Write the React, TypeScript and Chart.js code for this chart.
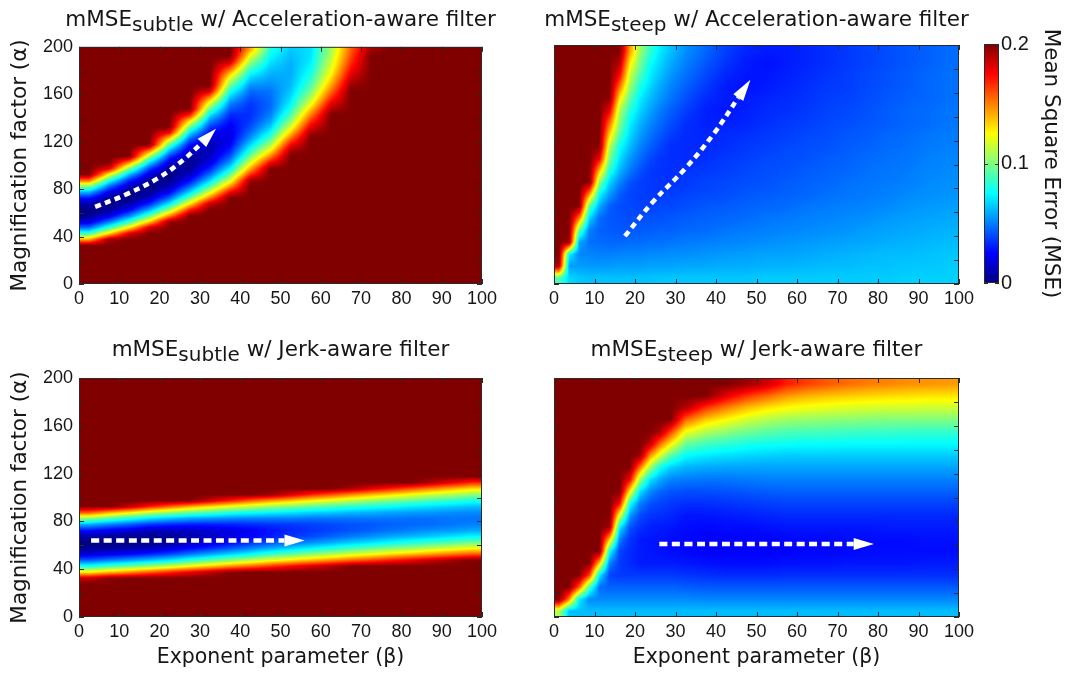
import React, { useEffect, useRef } from "react";
import { Chart, registerables } from "chart.js";

Chart.register(...registerables);

// ---------- axes ----------
const BETA_RANGE = [0, 100];
const ALPHA_RANGE = [0, 200];
const BETA_TICKS = [0, 10, 20, 30, 40, 50, 60, 70, 80, 90, 100];
const ALPHA_LABEL_TICKS = [0, 40, 80, 120, 160, 200];
const ALPHA_MINOR_TICKS = [0, 20, 40, 60, 80, 100, 120, 140, 160, 180, 200];
const MSE_RANGE = [0, 0.2];
const MSE_TICKS = [0, 0.1, 0.2];
const MSE_UNIT = 0.01; // grid values below are MSE in units of 0.01

// beta bin edges used by the two "steep" maps (finer where the boundary is sharp)
const STEEP_BETA_EDGES = [0, 2.5, 5, 7.5, 10, 12.5, 15, 17.5, 20, 22.5, 25, 27.5, 30, 35, 40, 45, 50, 55, 60, 65, 70, 75, 80, 85, 90, 95, 100];

// ---------- heat-map values (MSE x 100), read at cell centres ----------
// mMSE_subtle w/ Acceleration-aware filter: one array per 5-wide beta column, alpha upward in steps of 5
const subtleAccelByBeta = [
  [20,20,20,20,20,20,20,14.1,8.7,4.6, 1.8,0.3,0,0.9,2.9,6.1,10.3,15.6,20,20, 20,20,20,20,20,20,20,20,20,20, 20,20,20,20,20,20,20,20,20,20],
  [20,20,20,20,20,20,20,19.3,13.3,8.5, 4.7,2.0,0.5,0,0.6,2.2,4.7,8.2,12.7,18.2, 20,20,20,20,20,20,20,20,20,20, 20,20,20,20,20,20,20,20,20,20],
  [20,20,20,20,20,20,20,20,18.2,12.9, 8.5,5.0,2.4,0.8,0,0.2,1.3,3.3,6.3,10.1, 14.9,20,20,20,20,20,20,20,20,20, 20,20,20,20,20,20,20,20,20,20],
  [20,20,20,20,20,20,20,20,20,18.4, 13.4,9.3,5.9,3.2,1.4,0.3,0,0.5,1.8,3.9, 6.9,10.6,15.2,20,20,20,20,20,20,20, 20,20,20,20,20,20,20,20,20,20],
  [20,20,20,20,20,20,20,20,20,20, 19.5,14.8,10.7,7.3,4.5,2.4,1.0,0.2,0,0.6, 1.7,3.6,6.1,9.2,13.0,17.5,20,20,20,20, 20,20,20,20,20,20,20,20,20,20],
  [20,20,20,20,20,20,20,20,20,20, 20,20,16.9,13.0,9.6,6.7,4.4,2.5,1.3,0.5, 0.3,0.6,1.4,2.7,4.6,6.9,9.8,13.1,17.0,20, 20,20,20,20,20,20,20,20,20,20],
  [20,20,20,20,20,20,20,20,20,20, 20,20,20,18.8,15.1,11.8,9.0,6.6,4.6,3.1, 1.9,1.3,1.0,1.1,1.6,2.5,3.7,5.2,7.1,9.4, 12.0,14.9,18.2,20,20,20,20,20,20,20],
  [20,20,20,20,20,20,20,20,20,20, 20,20,20,20,20,17.6,14.5,11.7,9.3,7.2, 5.5,4.1,3.1,2.4,2.0,2.0,2.2,2.7,3.3,4.2, 5.2,6.5,8.0,9.7,11.6,13.7,16.1,18.6,20,20],
  [20,20,20,20,20,20,20,20,20,20, 20,20,20,20,20,20,20,19.3,16.5,14.0, 11.8,9.8,8.1,6.7,5.5,4.6,4.0,3.6,3.4,3.4, 3.6,4.0,4.6,5.4,6.4,7.6,9.0,10.6,12.3,14.1],
  [20,20,20,20,20,20,20,20,20,20, 20,20,20,20,20,20,20,20,20,19.8, 17.5,15.0,12.7,10.7,9.0,7.6,6.5,5.6,5.0,4.6, 4.5,4.6,4.8,5.2,5.6,6.0,6.5,7.0,7.5,8.1],
  [20,20,20,20,20,20,20,20,20,20, 20,20,20,20,20,20,20,20,20,20, 20,20,19.2,17.5,15.5,13.5,11.7,10.2,9.0,8.0, 7.3,6.8,6.4,6.1,6.0,5.9,5.9,6.0,6.2,6.4],
  [20,20,20,20,20,20,20,20,20,20, 20,20,20,20,20,20,20,20,20,20, 20,20,20,20,20,19.3,18,16.5,15,13.5, 12,10.8,9.8,9.0,8.4,7.9,7.5,7.2,7.0,6.9],
  [20,20,20,20,20,20,20,20,20,20, 20,20,20,20,20,20,20,20,20,20, 20,20,20,20,20,20,20,20,20,19, 17.8,16.5,15.3,14.2,13.3,12.5,11.9,11.4,11.0,10.7],
  [20,20,20,20,20,20,20,20,20,20, 20,20,20,20,20,20,20,20,20,20, 20,20,20,20,20,20,20,20,20,20, 20,20,20,19.5,18.7,17.9,17.2,16.6,16.1,15.7],
  [20,20,20,20,20,20,20,20,20,20, 20,20,20,20,20,20,20,20,20,20, 20,20,20,20,20,20,20,20,20,20, 20,20,20,20,20,20,20,20,20,19.3],
  [20,20,20,20,20,20,20,20,20,20, 20,20,20,20,20,20,20,20,20,20, 20,20,20,20,20,20,20,20,20,20, 20,20,20,20,20,20,20,20,20,20],
  [20,20,20,20,20,20,20,20,20,20, 20,20,20,20,20,20,20,20,20,20, 20,20,20,20,20,20,20,20,20,20, 20,20,20,20,20,20,20,20,20,20],
  [20,20,20,20,20,20,20,20,20,20, 20,20,20,20,20,20,20,20,20,20, 20,20,20,20,20,20,20,20,20,20, 20,20,20,20,20,20,20,20,20,20],
  [20,20,20,20,20,20,20,20,20,20, 20,20,20,20,20,20,20,20,20,20, 20,20,20,20,20,20,20,20,20,20, 20,20,20,20,20,20,20,20,20,20],
  [20,20,20,20,20,20,20,20,20,20, 20,20,20,20,20,20,20,20,20,20, 20,20,20,20,20,20,20,20,20,20, 20,20,20,20,20,20,20,20,20,20],
];

// mMSE_steep w/ Acceleration-aware filter: one array per 10-wide alpha row, across STEEP_BETA_EDGES bins
const steepAccelByAlpha = [
  [9,6.8,6.4,6.3,6.3,6.3,6.3,6.3,6.3,6.3,6.4,6.4, 6.4,6.4,6.4,6.4,6.5,6.5,6.5,6.5,6.5,6.5,6.5,6.6,6.6,6.6],
  [19,5.6,5.6,5.5,5.5,5.5,5.6,5.6,5.6,5.7,5.7,5.7, 5.8,5.8,5.9,5.9,6.0,6.0,6.1,6.2,6.2,6.3,6.3,6.4,6.4,6.5],
  [20,7.4,5.1,5.1,5.0,5.0,5.1,5.1,5.1,5.2,5.2,5.3, 5.3,5.4,5.5,5.6,5.7,5.7,5.8,5.9,6.0,6.1,6.2,6.2,6.3,6.4],
  [20,19.5,5.8,4.7,4.6,4.5,4.5,4.6,4.6,4.7,4.7,4.8, 4.9,5.0,5.1,5.2,5.3,5.4,5.5,5.6,5.7,5.8,5.9,6.0,6.1,6.2],
  [20,20,9.5,5.0,4.4,4.3,4.2,4.2,4.3,4.3,4.4,4.4, 4.5,4.6,4.8,4.9,5.0,5.1,5.2,5.3,5.4,5.6,5.7,5.8,5.9,6.0],
  [20,20,15,6.7,4.6,4.2,4.1,4.0,4.0,4.1,4.1,4.2, 4.3,4.4,4.5,4.6,4.8,4.9,5.0,5.1,5.2,5.3,5.5,5.6,5.7,5.8],
  [20,20,20,9.3,5.8,4.3,4.0,3.9,3.8,3.8,3.9,3.9, 4.0,4.2,4.3,4.4,4.5,4.6,4.8,4.9,5.0,5.1,5.2,5.4,5.5,5.6],
  [20,20,20,14.5,7.5,5.5,4.3,3.8,3.7,3.6,3.6,3.7, 3.8,3.9,4.0,4.2,4.3,4.4,4.5,4.7,4.8,4.9,5.0,5.2,5.3,5.4],
  [20,20,20,20,10.2,6.6,5.1,4.1,3.7,3.6,3.5,3.5, 3.6,3.8,3.9,4.0,4.1,4.3,4.4,4.5,4.7,4.8,4.9,5.0,5.2,5.3],
  [20,20,20,20,13.8,8.2,6.1,4.9,4.1,3.6,3.5,3.4, 3.5,3.6,3.7,3.9,4.0,4.1,4.3,4.4,4.5,4.7,4.8,4.9,5.1,5.2],
  [20,20,20,20,17.7,9.8,6.9,5.5,4.6,3.9,3.5,3.4, 3.3,3.4,3.6,3.7,3.9,4.0,4.1,4.3,4.4,4.6,4.7,4.8,5.0,5.1],
  [20,20,20,20,19.8,11.1,7.7,6.2,5.1,4.4,3.8,3.4, 3.3,3.3,3.4,3.6,3.7,3.9,4.0,4.1,4.3,4.4,4.6,4.7,4.9,5.0],
  [20,20,20,20,20,13.3,9.0,6.8,5.6,4.8,4.2,3.7, 3.3,3.2,3.3,3.4,3.6,3.7,3.9,4.0,4.2,4.3,4.5,4.6,4.8,4.9],
  [20,20,20,20,20,15.4,10.1,7.3,6.1,5.2,4.6,4.05, 3.4,3.1,3.1,3.2,3.4,3.6,3.7,3.9,4.0,4.2,4.3,4.5,4.6,4.8],
  [20,20,20,20,20,17.8,10.9,8.2,6.7,5.7,4.9,4.4, 3.7,3.1,2.9,3.1,3.3,3.4,3.6,3.8,3.9,4.1,4.3,4.5,4.6,4.8],
  [20,20,20,20,20,19.7,12.8,9.3,7.2,6.2,5.4,4.8, 4.05,3.3,3.0,3.0,3.2,3.3,3.5,3.7,3.8,4.0,4.2,4.4,4.5,4.7],
  [20,20,20,20,20,20,15.2,10.5,8.0,6.7,5.8,5.1, 4.4,3.6,3.0,2.8,3.0,3.2,3.4,3.6,3.7,3.9,4.1,4.3,4.5,4.7],
  [20,20,20,20,20,20,17.5,11.6,9.0,7.2,6.3,5.5, 4.7,3.9,3.2,2.9,2.9,3.1,3.3,3.5,3.7,3.9,4.1,4.3,4.5,4.7],
  [20,20,20,20,20,20,18.9,12.9,9.8,7.7,6.7,5.9, 5.0,4.2,3.5,3.0,2.8,3.0,3.2,3.4,3.6,3.8,4.0,4.2,4.4,4.6],
  [20,20,20,20,20,20,20,14.5,10.6,8.5,7.1,6.3, 5.3,4.5,3.7,3.2,3.0,3.0,3.2,3.4,3.6,3.8,4.0,4.2,4.4,4.6],
];

// mMSE_subtle w/ Jerk-aware filter: one array per 5-wide beta column, alpha upward in steps of 5
const subtleJerkByBeta = [
  [20,20,20,20,20,20,18.6,12.7,8.0,4.3, 1.8,0.4,0,0.8,2.8,6.0,10.4,15.9,20,20, 20,20,20,20,20,20,20,20,20,20, 20,20,20,20,20,20,20,20,20,20],
  [20,20,20,20,20,20,19.7,13.7,8.8,5.0, 2.2,0.6,0,0.6,2.3,5.1,9.1,14.3,20,20, 20,20,20,20,20,20,20,20,20,20, 20,20,20,20,20,20,20,20,20,20],
  [20,20,20,20,20,20,20,14.6,9.6,5.6, 2.6,0.8,0,0.3,1.8,4.4,8.1,12.9,18.9,20, 20,20,20,20,20,20,20,20,20,20, 20,20,20,20,20,20,20,20,20,20],
  [20,20,20,20,20,20,20,15.7,10.5,6.3, 3.2,1.1,0.1,0.2,1.3,3.6,7.0,11.5,17.1,20, 20,20,20,20,20,20,20,20,20,20, 20,20,20,20,20,20,20,20,20,20],
  [20,20,20,20,20,20,20,16.7,11.4,7.1, 3.9,1.7,0.5,0.4,1.3,3.3,6.3,10.5,15.7,20, 20,20,20,20,20,20,20,20,20,20, 20,20,20,20,20,20,20,20,20,20],
  [20,20,20,20,20,20,20,17.8,12.5,8.2, 4.9,2.5,1.2,0.8,1.5,3.1,5.8,9.6,14.3,20, 20,20,20,20,20,20,20,20,20,20, 20,20,20,20,20,20,20,20,20,20],
  [20,20,20,20,20,20,20,18.8,13.5,9.2, 5.8,3.3,1.8,1.3,1.7,3.1,5.5,8.9,13.2,18.5, 20,20,20,20,20,20,20,20,20,20, 20,20,20,20,20,20,20,20,20,20],
  [20,20,20,20,20,20,20,19.9,14.6,10.2, 6.7,4.2,2.5,1.8,2.0,3.2,5.2,8.2,12.2,17.1, 20,20,20,20,20,20,20,20,20,20, 20,20,20,20,20,20,20,20,20,20],
  [20,20,20,20,20,20,20,20,15.5,11.1, 7.6,5.0,3.3,2.4,2.4,3.3,5.1,7.8,11.4,15.8, 20,20,20,20,20,20,20,20,20,20, 20,20,20,20,20,20,20,20,20,20],
  [20,20,20,20,20,20,20,20,16.5,12.1, 8.6,5.9,4.0,3.0,2.8,3.5,5.0,7.4,10.6,14.7, 19.6,20,20,20,20,20,20,20,20,20, 20,20,20,20,20,20,20,20,20,20],
  [20,20,20,20,20,20,20,20,17.4,13.0, 9.4,6.6,4.6,3.5,3.2,3.6,5.0,7.1,10.0,13.8, 18.3,20,20,20,20,20,20,20,20,20, 20,20,20,20,20,20,20,20,20,20],
  [20,20,20,20,20,20,20,20,18.3,13.8, 10.2,7.3,5.2,3.9,3.5,3.8,4.8,6.7,9.4,12.8, 17.0,20,20,20,20,20,20,20,20,20, 20,20,20,20,20,20,20,20,20,20],
  [20,20,20,20,20,20,20,20,19.1,14.6, 10.9,8.0,5.8,4.4,3.8,3.9,4.8,6.5,8.9,12.1, 16.0,20,20,20,20,20,20,20,20,20, 20,20,20,20,20,20,20,20,20,20],
  [20,20,20,20,20,20,20,20,20,15.5, 11.7,8.7,6.4,4.9,4.1,4.1,4.8,6.2,8.4,11.3, 14.9,19.3,20,20,20,20,20,20,20,20, 20,20,20,20,20,20,20,20,20,20],
  [20,20,20,20,20,20,20,20,20,16.2, 12.4,9.3,6.9,5.3,4.4,4.2,4.8,6.0,8.0,10.6, 14.0,18.1,20,20,20,20,20,20,20,20, 20,20,20,20,20,20,20,20,20,20],
  [20,20,20,20,20,20,20,20,20,17.0, 13.2,10.0,7.5,5.8,4.7,4.4,4.8,5.8,7.6,10.0, 13.2,17.0,20,20,20,20,20,20,20,20, 20,20,20,20,20,20,20,20,20,20],
  [20,20,20,20,20,20,20,20,20,17.8, 13.8,10.5,8.0,6.1,5.0,4.5,4.7,5.6,7.2,9.5, 12.4,16.0,20,20,20,20,20,20,20,20, 20,20,20,20,20,20,20,20,20,20],
  [20,20,20,20,20,20,20,20,20,18.6, 14.5,11.2,8.5,6.5,5.3,4.6,4.7,5.5,6.9,8.9, 11.6,15.0,19.0,20,20,20,20,20,20,20, 20,20,20,20,20,20,20,20,20,20],
  [20,20,20,20,20,20,20,20,20,19.3, 15.2,11.8,9.0,6.9,5.5,4.8,4.8,5.3,6.6,8.5, 11.0,14.1,17.9,20,20,20,20,20,20,20, 20,20,20,20,20,20,20,20,20,20],
  [20,20,20,20,20,20,20,20,20,20, 15.9,12.4,9.5,7.4,5.8,5.0,4.75,5.2,6.3,8.0, 10.3,13.2,16.8,20,20,20,20,20,20,20, 20,20,20,20,20,20,20,20,20,20],
];

// mMSE_steep w/ Jerk-aware filter: one array per STEEP_BETA_EDGES column, alpha upward in steps of 10
const steepJerkByBeta = [
  [11,20,20,20,20,20,20,20,20,20, 20,20,20,20,20,20,20,20,20,20],
  [6.3,15,20,20,20,20,20,20,20,20, 20,20,20,20,20,20,20,20,20,20],
  [6.2,7.3,15.7,20,20,20,20,20,20,20, 20,20,20,20,20,20,20,20,20,20],
  [6.2,5.2,8.9,16.3,20,20,20,20,20,20, 20,20,20,20,20,20,20,20,20,20],
  [6.2,5.2,4.6,7.2,13.5,20,20,20,20,20, 20,20,20,20,20,20,20,20,20,20],
  [6.2,5.2,4.4,3.8,5.0,7.7,13.6,19.4,20,20, 20,20,20,20,20,20,20,20,20,20],
  [6.2,5.2,4.4,3.6,3.6,3.8,4.9,7.1,12.0,17.4, 20,20,20,20,20,20,20,20,20,20],
  [6.2,5.2,4.4,3.6,3.3,3.3,3.5,4.1,5.5,7.9, 12.8,17.6,20,20,20,20,20,20,20,20],
  [6.2,5.2,4.4,3.6,3.0,3.0,3.0,3.4,4.0,5.0, 6.9,10.6,15.1,19.6,20,20,20,20,20,20],
  [6.2,5.2,4.4,3.6,3.0,2.9,2.9,3.1,3.5,4.1, 5.2,7.0,10.5,14.6,18.8,20,20,20,20,20],
  [6.2,5.2,4.4,3.6,3.0,2.8,2.8,3.0,3.4,3.8, 4.5,5.8,7.7,11.6,15.4,19.2,20,20,20,20],
  [6.2,5.2,4.4,3.6,3.0,2.7,2.7,2.9,3.25,3.6, 4.15,5.1,6.6,9.25,12.9,16.4,20,20,20,20],
  [6.2,5.2,4.3,3.5,2.9,2.6,2.6,2.7,2.9,3.4, 4.0,4.9,6.0,7.5,9.6,12.3,15.5,19,20,20],
  [6.2,5.1,4.2,3.4,2.8,2.5,2.5,2.6,2.9,3.4, 4.0,4.8,5.8,7.1,8.8,11,13.5,16.5,20,20],
  [6.2,5.1,4.2,3.3,2.7,2.5,2.5,2.7,3.0,3.5, 4.1,4.8,5.7,6.9,8.4,10.3,12.5,15,18,20],
  [6.2,5.1,4.2,3.3,2.7,2.5,2.5,2.7,3.1,3.6, 4.2,4.9,5.7,6.7,8.0,9.7,11.6,13.8,16.5,19.5],
  [6.2,5.1,4.2,3.3,2.7,2.5,2.5,2.8,3.2,3.7, 4.3,5.0,5.7,6.6,7.8,9.3,11.0,13.0,15.5,18.5],
  [6.2,5.1,4.2,3.4,2.8,2.5,2.6,2.9,3.3,3.8, 4.4,5.0,5.7,6.5,7.7,9.0,10.6,12.5,14.5,17.0],
  [6.2,5.1,4.2,3.4,2.8,2.6,2.6,2.9,3.3,3.8, 4.4,5.0,5.7,6.5,7.6,8.9,10.4,12.2,14.0,16.3],
  [6.2,5.1,4.2,3.4,2.8,2.6,2.6,2.9,3.3,3.8, 4.4,5.0,5.7,6.5,7.6,8.8,10.3,12.0,13.7,15.8],
  [6.2,5.1,4.2,3.4,2.9,2.6,2.7,2.9,3.3,3.8, 4.4,5.0,5.7,6.5,7.5,8.7,10.2,11.8,13.5,15.4],
  [6.2,5.1,4.2,3.4,2.9,2.7,2.7,2.9,3.3,3.8, 4.4,5.0,5.7,6.5,7.5,8.6,10.1,11.7,13.3,15.1],
  [6.2,5.1,4.2,3.4,2.9,2.7,2.7,3.0,3.3,3.8, 4.4,5.0,5.7,6.5,7.5,8.6,10.0,11.6,13.2,14.9],
  [6.2,5.1,4.2,3.4,2.9,2.7,2.7,3.0,3.3,3.8, 4.4,5.0,5.7,6.5,7.5,8.5,10.0,11.6,13.1,14.7],
  [6.2,5.1,4.2,3.4,3.0,2.7,2.8,3.0,3.3,3.8, 4.4,5.0,5.7,6.5,7.5,8.5,10.0,11.5,13.0,14.6],
  [6.2,5.1,4.2,3.4,3.0,2.7,2.8,3.0,3.3,3.8, 4.4,5.0,5.7,6.5,7.5,8.5,10.0,11.5,13.0,14.5],
];

// ---------- arrows (beta, alpha) ----------
const arrowSubtleAccel = [{ x: 4, y: 65 }, { x: 12, y: 76 }, { x: 20, y: 90 }, { x: 26, y: 105 }, { x: 30.5, y: 119 }];
const tipSubtleAccel = { x: 34, y: 131 };
const arrowSteepAccel = [{ x: 17.5, y: 40 }, { x: 24.5, y: 69 }, { x: 32.5, y: 97 }, { x: 39.5, y: 126 }, { x: 45.5, y: 156 }];
const tipSteepAccel = { x: 48.5, y: 171 };
const arrowSubtleJerk = [{ x: 3, y: 64 }, { x: 51, y: 64 }];
const tipSubtleJerk = { x: 56, y: 64 };
const arrowSteepJerk = [{ x: 26, y: 61 }, { x: 74, y: 61 }];
const tipSteepJerk = { x: 79, y: 61 };

// ---------- text ----------
const TITLE_MAIN = "mMSE";
const X_TITLE = "Exponent parameter (\u03b2)";
const Y_TITLE = "Magnification factor (\u03b1)";
const CB_TITLE = "Mean Square Error (MSE)";

const TICK_FONT = '"Liberation Sans", Arial, Helvetica, sans-serif';
const LABEL_FONT = '"DejaVu Sans", "Open Sans", sans-serif';
const INK = "#161616";
const FRAME = "#2a2a2a";

function jetRGB(t: number): number[] {
  const s = Math.min(1, Math.max(0, t));
  const c = (v: number) => Math.round(255 * Math.min(1, Math.max(0, v)));
  return [c(1.5 - Math.abs(4 * s - 3)), c(1.5 - Math.abs(4 * s - 2)), c(1.5 - Math.abs(4 * s - 1))];
}
function jet(t: number): string {
  const [r, g, b] = jetRGB(t);
  return `rgb(${r},${g},${b})`;
}

function toColumns(rows: number[][]): number[][] {
  return rows[0].map((_, j) => rows.map((r) => r[j]));
}
function uniformEdges(lo: number, hi: number, n: number): number[] {
  return Array.from({ length: n + 1 }, (_, i) => lo + ((hi - lo) * i) / n);
}
function centresOf(edges: number[]): number[] {
  return edges.slice(1).map((e, i) => (edges[i] + e) / 2);
}
// fractional position between cell centres for a data coordinate
function cellPos(v: number, centres: number[]) {
  const n = centres.length;
  if (v <= centres[0]) return { i0: 0, i1: 0, t: 0 };
  if (v >= centres[n - 1]) return { i0: n - 1, i1: n - 1, t: 0 };
  let i = 0;
  while (centres[i + 1] < v) i++;
  return { i0: i, i1: i + 1, t: (v - centres[i]) / (centres[i + 1] - centres[i]) };
}

type Pt = { x: number; y: number };
interface PanelSpec {
  cols: number[][];
  betaEdges: number[];
  alphaEdges: number[];
  arrow: Pt[];
  tip: Pt;
  dash: number[];
  left: number;
  top: number;
  width: number;
  height: number;
  padRight: number;
  padTop: number;
  yAxisWidth: number;
  xAxisHeight: number;
  yLabels: boolean;
  xTitle: boolean;
  sub: string;
  rest: string;
  titleTop: number;
}

function makePanelPlugin(spec: PanelSpec) {
  return {
    id: "heatPanel",
    beforeDatasetsDraw(chart: any) {
      const { ctx, chartArea: ca } = chart;
      const xs = chart.scales.x;
      const ys = chart.scales.y;
      const cols = spec.cols;
      const bc = centresOf(spec.betaEdges);
      const ac = centresOf(spec.alphaEdges);
      const x0 = Math.round(ca.left);
      const y0 = Math.round(ca.top);
      const w = Math.round(ca.right) - x0;
      const h = Math.round(ca.bottom) - y0;
      const img = ctx.createImageData(w, h);
      const colPos = [];
      for (let px = 0; px < w; px++) colPos.push(cellPos(xs.getValueForPixel(x0 + px + 0.5), bc));
      const rowPos = [];
      for (let py = 0; py < h; py++) rowPos.push(cellPos(ys.getValueForPixel(y0 + py + 0.5), ac));
      for (let py = 0; py < h; py++) {
        const r = rowPos[py];
        for (let px = 0; px < w; px++) {
          const c = colPos[px];
          const a = cols[c.i0][r.i0] * (1 - r.t) + cols[c.i0][r.i1] * r.t;
          const b = cols[c.i1][r.i0] * (1 - r.t) + cols[c.i1][r.i1] * r.t;
          const v = (a * (1 - c.t) + b * c.t) * MSE_UNIT;
          const rgb = jetRGB((v - MSE_RANGE[0]) / (MSE_RANGE[1] - MSE_RANGE[0]));
          const k = (py * w + px) * 4;
          img.data[k] = rgb[0];
          img.data[k + 1] = rgb[1];
          img.data[k + 2] = rgb[2];
          img.data[k + 3] = 255;
        }
      }
      ctx.putImageData(img, x0, y0);
    },
    afterDatasetsDraw(chart: any) {
      const { ctx, chartArea: ca } = chart;
      const xs = chart.scales.x;
      const ys = chart.scales.y;
      ctx.save();
      const last = spec.arrow[spec.arrow.length - 1];
      const px = xs.getPixelForValue(last.x);
      const py = ys.getPixelForValue(last.y);
      const tx = xs.getPixelForValue(spec.tip.x);
      const ty = ys.getPixelForValue(spec.tip.y);
      const ang = Math.atan2(ty - py, tx - px);
      const hw = 6;
      ctx.beginPath();
      ctx.moveTo(tx, ty);
      ctx.lineTo(px + Math.cos(ang + Math.PI / 2) * hw, py + Math.sin(ang + Math.PI / 2) * hw);
      ctx.lineTo(px - Math.cos(ang + Math.PI / 2) * hw, py - Math.sin(ang + Math.PI / 2) * hw);
      ctx.closePath();
      ctx.fillStyle = "#ffffff";
      ctx.fill();
      ctx.strokeStyle = FRAME;
      ctx.lineWidth = 1;
      ctx.beginPath();
      BETA_TICKS.forEach((v) => {
        const x = Math.round(xs.getPixelForValue(v)) + 0.5;
        ctx.moveTo(x, ca.bottom);
        ctx.lineTo(x, ca.bottom - 5);
        ctx.moveTo(x, ca.top);
        ctx.lineTo(x, ca.top + 5);
      });
      ALPHA_MINOR_TICKS.forEach((v) => {
        const y = Math.round(ys.getPixelForValue(v)) + 0.5;
        ctx.moveTo(ca.left, y);
        ctx.lineTo(ca.left + 5, y);
        ctx.moveTo(ca.right, y);
        ctx.lineTo(ca.right - 5, y);
      });
      ctx.stroke();
      ctx.strokeRect(ca.left + 0.5, ca.top + 0.5, ca.right - ca.left - 1, ca.bottom - ca.top - 1);
      ctx.restore();
    },
  };
}

function HeatPanel({ spec }: { spec: PanelSpec }) {
  const ref = useRef<HTMLCanvasElement>(null);
  useEffect(() => {
    const canvas = ref.current;
    if (!canvas) return;
    const chart = new Chart(canvas, {
      type: "scatter",
      data: {
        datasets: [
          {
            data: spec.arrow,
            showLine: true,
            borderColor: "#ffffff",
            borderWidth: 4.5,
            borderDash: spec.dash,
            borderCapStyle: "butt",
            pointRadius: 0,
            pointHoverRadius: 0,
            tension: 0.4,
            fill: false,
          } as any,
        ],
      },
      options: {
        responsive: false,
        animation: false,
        devicePixelRatio: 1,
        events: [],
        layout: { padding: { left: 0, right: spec.padRight, top: spec.padTop, bottom: 0 } },
        plugins: { legend: { display: false }, tooltip: { enabled: false }, title: { display: false } },
        scales: {
          x: {
            type: "linear",
            position: "bottom",
            min: BETA_RANGE[0],
            max: BETA_RANGE[1],
            afterBuildTicks: (s: any) => {
              s.ticks = BETA_TICKS.map((v) => ({ value: v }));
            },
            afterFit: (s: any) => {
              s.height = spec.xAxisHeight;
            },
            grid: { display: false, drawTicks: false },
            border: { display: false },
            ticks: { font: { family: TICK_FONT, size: 18 }, color: INK, padding: 4, maxRotation: 0, autoSkip: false },
            title: {
              display: spec.xTitle,
              text: X_TITLE,
              font: { family: LABEL_FONT, size: 20.5 },
              color: INK,
              padding: { top: 0, bottom: 8 },
            },
          },
          y: {
            type: "linear",
            position: "left",
            min: ALPHA_RANGE[0],
            max: ALPHA_RANGE[1],
            afterBuildTicks: (s: any) => {
              s.ticks = ALPHA_LABEL_TICKS.map((v) => ({ value: v }));
            },
            afterFit: (s: any) => {
              s.width = spec.yAxisWidth;
            },
            grid: { display: false, drawTicks: false },
            border: { display: false },
            ticks: { display: spec.yLabels, font: { family: TICK_FONT, size: 18 }, color: INK, padding: 6 },
            title: {
              display: spec.yLabels,
              text: Y_TITLE,
              font: { family: LABEL_FONT, size: 21.5 },
              color: INK,
              padding: { top: 8, bottom: 0 },
            },
          },
        },
      } as any,
      plugins: [makePanelPlugin(spec)],
    });
    return () => chart.destroy();
  }, [spec]);
  return (
    <canvas
      ref={ref}
      width={spec.width}
      height={spec.height}
      style={{ position: "absolute", left: spec.left, top: spec.top, width: spec.width, height: spec.height }}
    />
  );
}

const colorbarPlugin = {
  id: "colorbar",
  beforeDatasetsDraw(chart: any) {
    const { ctx, chartArea: ca } = chart;
    const ys = chart.scales.y;
    ctx.save();
    const g = ctx.createLinearGradient(0, ca.bottom, 0, ca.top);
    [0, 0.125, 0.375, 0.625, 0.875, 1].forEach((s) => g.addColorStop(s, jet(s)));
    ctx.fillStyle = g;
    ctx.fillRect(ca.left, ca.top, ca.right - ca.left, ca.bottom - ca.top);
    ctx.strokeStyle = FRAME;
    ctx.lineWidth = 1;
    ctx.beginPath();
    MSE_TICKS.forEach((v) => {
      const y = Math.round(ys.getPixelForValue(v)) + 0.5;
      ctx.moveTo(ca.left, y);
      ctx.lineTo(ca.left + 4, y);
      ctx.moveTo(ca.right, y);
      ctx.lineTo(ca.right - 4, y);
    });
    ctx.stroke();
    ctx.strokeRect(ca.left + 0.5, ca.top + 0.5, ca.right - ca.left - 1, ca.bottom - ca.top - 1);
    ctx.restore();
  },
};

function ColorBar() {
  const ref = useRef<HTMLCanvasElement>(null);
  useEffect(() => {
    const canvas = ref.current;
    if (!canvas) return;
    const chart = new Chart(canvas, {
      type: "scatter",
      data: { datasets: [] },
      options: {
        responsive: false,
        animation: false,
        devicePixelRatio: 1,
        events: [],
        layout: { padding: { left: 24, right: 0, top: 14, bottom: 47 } },
        plugins: { legend: { display: false }, tooltip: { enabled: false } },
        scales: {
          x: { type: "linear", display: false, min: 0, max: 1 },
          y: {
            type: "linear",
            position: "right",
            min: MSE_RANGE[0],
            max: MSE_RANGE[1],
            afterBuildTicks: (s: any) => {
              s.ticks = MSE_TICKS.map((v) => ({ value: v }));
            },
            afterFit: (s: any) => {
              s.width = 68;
            },
            grid: { display: false, drawTicks: false },
            border: { display: false },
            ticks: { font: { family: TICK_FONT, size: 20 }, color: INK, padding: 2, callback: (v: any) => String(v) },
            title: {
              display: true,
              text: CB_TITLE,
              font: { family: LABEL_FONT, size: 21.5 },
              color: INK,
              padding: { top: 4, bottom: 0 },
            },
          },
        },
      } as any,
      plugins: [colorbarPlugin],
    });
    return () => chart.destroy();
  }, []);
  return (
    <canvas ref={ref} width={107} height={300} style={{ position: "absolute", left: 960, top: 30, width: 107, height: 300 }} />
  );
}

const EDGES_5x5 = { betaEdges: uniformEdges(0, 100, 20), alphaEdges: uniformEdges(0, 200, 40) };
const EDGES_STEEP = { betaEdges: STEEP_BETA_EDGES, alphaEdges: uniformEdges(0, 200, 20) };

const PANELS: PanelSpec[] = [
  {
    cols: subtleAccelByBeta, ...EDGES_5x5, arrow: arrowSubtleAccel, tip: tipSubtleAccel, dash: [6, 4.5],
    left: 0, top: 30, width: 530, height: 300, padRight: 48, padTop: 15, yAxisWidth: 79, xAxisHeight: 46,
    yLabels: true, xTitle: false, sub: "subtle", rest: " w/ Acceleration-aware filter", titleTop: 4,
  },
  {
    cols: toColumns(steepAccelByAlpha), ...EDGES_STEEP, arrow: arrowSteepAccel, tip: tipSteepAccel, dash: [6, 4.5],
    left: 530, top: 30, width: 480, height: 300, padRight: 51, padTop: 15, yAxisWidth: 24, xAxisHeight: 46,
    yLabels: false, xTitle: false, sub: "steep", rest: " w/ Acceleration-aware filter", titleTop: 4,
  },
  {
    cols: subtleJerkByBeta, ...EDGES_5x5, arrow: arrowSubtleJerk, tip: tipSubtleJerk, dash: [8, 4.5],
    left: 0, top: 360, width: 530, height: 318, padRight: 48, padTop: 18, yAxisWidth: 79, xAxisHeight: 61,
    yLabels: true, xTitle: true, sub: "subtle", rest: " w/ Jerk-aware filter", titleTop: 334,
  },
  {
    cols: steepJerkByBeta, ...EDGES_STEEP, arrow: arrowSteepJerk, tip: tipSteepJerk, dash: [8, 4.5],
    left: 530, top: 360, width: 480, height: 318, padRight: 51, padTop: 18, yAxisWidth: 24, xAxisHeight: 61,
    yLabels: false, xTitle: true, sub: "steep", rest: " w/ Jerk-aware filter", titleTop: 334,
  },
];

function PanelTitle({ spec }: { spec: PanelSpec }) {
  const plotLeft = spec.left + spec.yAxisWidth;
  const plotRight = spec.left + spec.width - spec.padRight;
  const cx = (plotLeft + plotRight) / 2;
  return (
    <div
      style={{
        position: "absolute",
        left: cx - 300,
        width: 600,
        top: spec.titleTop,
        textAlign: "center",
        whiteSpace: "nowrap",
        fontFamily: LABEL_FONT,
        fontSize: 21.5,
        lineHeight: "30px",
        color: INK,
      }}
    >
      {TITLE_MAIN}
      <span style={{ position: "relative", top: 5, fontSize: 20 }}>{spec.sub}</span>
      {spec.rest}
    </div>
  );
}

export default function App() {
  return (
    <div style={{ position: "absolute", left: 0, top: 0, width: 1067, height: 678, background: "#ffffff", overflow: "hidden" }}>
      {PANELS.map((p, i) => (
        <HeatPanel key={"p" + i} spec={p} />
      ))}
      <ColorBar />
      {PANELS.map((p, i) => (
        <PanelTitle key={"t" + i} spec={p} />
      ))}
    </div>
  );
}
